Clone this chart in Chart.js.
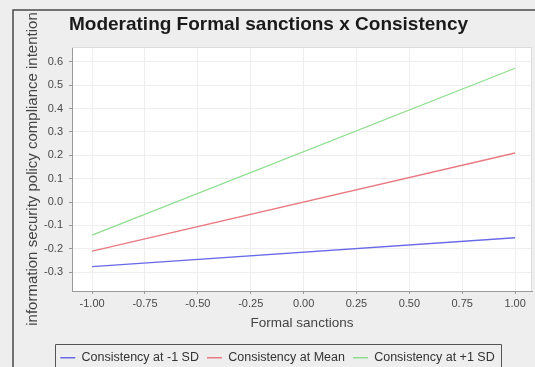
<!DOCTYPE html>
<html>
<head>
<meta charset="utf-8">
<script src="https://cdn.jsdelivr.net/npm/chart.js@4.4.1/dist/chart.umd.min.js"></script>
<style>
  html, body { margin: 0; padding: 0; background: #eeeeee; overflow: hidden; width: 535px; height: 367px; }
  #wrap { position: relative; width: 535px; height: 374px; }
</style>
</head>
<body>
<div id="wrap"><canvas id="c"></canvas></div>
<script>
// Simple slopes: compliance intention vs. formal sanctions at three levels of consistency
const formalSanctions = [-1, 1];
const seriesLabels = ['Consistency at -1 SD', 'Consistency at Mean', 'Consistency at +1 SD'];
const lowConsistency = [-0.277, -0.153];
const meanConsistency = [-0.21, 0.21];
const highConsistency = [-0.142, 0.573];
const xTicks = [-1, -0.75, -0.5, -0.25, 0, 0.25, 0.5, 0.75, 1];
const yTicks = [-0.3, -0.2, -0.1, 0, 0.1, 0.2, 0.3, 0.4, 0.5, 0.6];
const lineColors = ['#6a6ae8', '#e87a82', '#8ede8e'];

const FONT = '"Liberation Sans", Arial, sans-serif';

function toPoints(values) {
  return formalSanctions.map((x, i) => ({ x: x, y: values[i] }));
}

const seriesValues = [lowConsistency, meanConsistency, highConsistency];

const datasets = seriesValues.map((vals, i) => ({
  label: seriesLabels[i],
  data: toPoints(vals),
  borderColor: lineColors[i],
  backgroundColor: lineColors[i],
  borderWidth: 1.3,
  pointRadius: 0,
  tension: 0,
  fill: false
}));

// Background, frame, plot outline and legend box
const decor = {
  id: 'decor',
  afterLayout(chart) {
    const lg = chart.legend;
    if (lg) { lg.left += 9; lg.right += 9; }
  },
  beforeDraw(chart) {
    const { ctx, chartArea: a } = chart;
    ctx.save();
    ctx.fillStyle = '#eeeeee';
    ctx.fillRect(0, 0, chart.width, chart.height);
    ctx.fillStyle = '#ffffff';
    ctx.fillRect(a.left, a.top, a.right - a.left, a.bottom - a.top);
    ctx.strokeStyle = '#4a4a4a';
    ctx.lineWidth = 1.5;
    ctx.beginPath();
    ctx.moveTo(13, chart.height);
    ctx.lineTo(13, 10);
    ctx.lineTo(chart.width, 10);
    ctx.stroke();
    ctx.restore();
  },
  afterDraw(chart) {
    const { ctx, chartArea: a } = chart;
    ctx.save();
    ctx.strokeStyle = '#dcdcdc';
    ctx.lineWidth = 1;
    ctx.beginPath();
    ctx.moveTo(a.left, a.top + 0.5);
    ctx.lineTo(a.right - 0.5, a.top + 0.5);
    ctx.lineTo(a.right - 0.5, a.bottom);
    ctx.stroke();
    const lg = chart.legend;
    if (lg && lg.legendHitBoxes && lg.legendHitBoxes.length) {
      const hb = lg.legendHitBoxes;
      const first = hb[0], last = hb[hb.length - 1];
      const x0 = Math.round(first.left - 5) + 0.5;
      const x1 = Math.round(last.left + last.width + 6) + 0.5;
      const y0 = Math.round(lg.top) + 0.5;
      ctx.strokeStyle = '#555555';
      ctx.beginPath();
      ctx.moveTo(x0, chart.height + 5);
      ctx.lineTo(x0, y0);
      ctx.lineTo(x1, y0);
      ctx.lineTo(x1, chart.height + 5);
      ctx.stroke();
    }
    ctx.restore();
  }
};

new Chart(document.getElementById('c'), {
  type: 'line',
  data: { datasets: datasets },
  plugins: [decor],
  options: {
    responsive: true,
    maintainAspectRatio: false,
    animation: false,
    events: [],
    layout: { padding: { left: 5, right: 3, top: 0, bottom: 0 } },
    plugins: {
      tooltip: { enabled: false },
      title: {
        display: true,
        text: 'Moderating Formal sanctions x Consistency',
        color: '#1a1a1a',
        font: { family: FONT, size: 19, weight: 'bold', lineHeight: 1.2 },
        padding: { top: 13.6, bottom: 10.6 }
      },
      legend: {
        display: true,
        position: 'bottom',
        labels: {
          usePointStyle: true,
          pointStyle: 'line',
          pointStyleWidth: 15,
          boxWidth: 15,
          padding: 8,
          color: '#333333',
          font: { family: FONT, size: 12.5 }
        }
      }
    },
    scales: {
      x: {
        type: 'linear',
        min: -1.095,
        max: 1.08,
        afterBuildTicks: s => { s.ticks = xTicks.map(v => ({ value: v })); },
        afterFit: s => { s.height = 52.5; },
        ticks: {
          autoSkip: false,
          maxRotation: 0,
          padding: 3,
          color: '#4a4a4a',
          font: { family: FONT, size: 11 },
          callback: v => Number(v).toFixed(2)
        },
        grid: { color: '#eeeeee', tickColor: '#999999', tickLength: 3, drawTicks: true },
        border: { color: '#9a9a9a', width: 1 },
        title: {
          display: true,
          text: 'Formal sanctions',
          color: '#444444',
          font: { family: FONT, size: 13.5 },
          padding: { top: 0, bottom: 11.9 }
        }
      },
      y: {
        type: 'linear',
        min: -0.381,
        max: 0.664,
        afterBuildTicks: s => { s.ticks = yTicks.map(v => ({ value: v })); },
        afterFit: s => { s.width = 67; },
        ticks: {
          padding: 6,
          color: '#4a4a4a',
          font: { family: FONT, size: 11 },
          callback: v => Number(v).toFixed(1)
        },
        grid: { color: '#eeeeee', tickColor: '#999999', tickLength: 3, drawTicks: true },
        border: { color: '#9a9a9a', width: 1 },
        title: {
          display: true,
          text: 'information security policy compliance intention',
          color: '#444444',
          font: { family: FONT, size: 15 },
          padding: { top: 19, bottom: 0 }
        }
      }
    }
  }
});
</script>
</body>
</html>
